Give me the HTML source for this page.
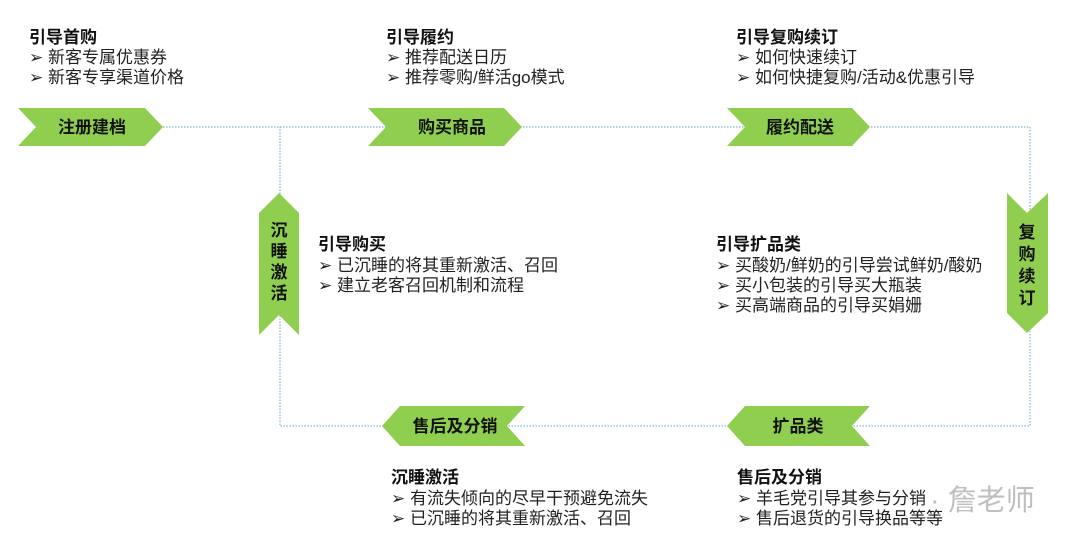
<!DOCTYPE html>
<html><head><meta charset="utf-8"><style>
html,body{margin:0;padding:0;background:#fff;width:1080px;height:543px;overflow:hidden}
text{font-family:"Liberation Sans","Noto Sans CJK SC",sans-serif;fill:#111}
.h{font-weight:bold;font-size:17px}
.t{font-size:17px;fill:#222}
.c{font-weight:bold;font-size:17px;text-anchor:middle}
</style></head><body>
<svg width="1080" height="543" viewBox="0 0 1080 543" xmlns="http://www.w3.org/2000/svg">
<g fill="none" stroke="#7fb6d6" stroke-width="1.2" stroke-dasharray="1.5,1.5">
<path d="M163 127 H1030 V426 H280 V127"/>
</g>
<g fill="#8fce4e">
<polygon points="18,108 145,108 163,127 145,146 18,146 36,127"/>
<polygon points="368,108 504,108 522,127 504,146 368,146 386,127"/>
<polygon points="727,108 852,108 870,127 852,146 727,146 745,127"/>
<polygon points="870,406 745,406 727,426 745,446 870,446 852,426"/>
<polygon points="525,406 400,406 382,426 400,446 525,446 507,426"/>
<polygon points="279,193 299,213 299,335 279,315 259,335 259,213"/>
<polygon points="1007,193 1027,213 1048,193 1048,313 1027,333 1007,313"/>
</g>
<text class="c" x="92" y="133">注册建档</text>
<text class="c" x="452" y="133">购买商品</text>
<text class="c" x="800" y="133">履约配送</text>
<text class="c" x="798" y="432">扩品类</text>
<text class="c" x="455" y="432">售后及分销</text>
<text class="c" x="279" y="236">沉</text><text class="c" x="279" y="257">睡</text><text class="c" x="279" y="278">激</text><text class="c" x="279" y="299">活</text>
<text class="c" x="1027" y="238">复</text><text class="c" x="1027" y="260">购</text><text class="c" x="1027" y="282">续</text><text class="c" x="1027" y="304">订</text>

<text class="h" x="29" y="43">引导首购</text>
<text class="t" x="29" y="63">➢ 新客专属优惠券</text>
<text class="t" x="29" y="83">➢ 新客专享渠道价格</text>

<text class="h" x="386" y="43">引导履约</text>
<text class="t" x="386" y="63">➢ 推荐配送日历</text>
<text class="t" x="386" y="83">➢ 推荐零购/鲜活go模式</text>

<text class="h" x="736" y="43">引导复购续订</text>
<text class="t" x="736" y="63">➢ 如何快速续订</text>
<text class="t" x="736" y="83">➢ 如何快捷复购/活动&amp;优惠引导</text>

<text class="h" x="318" y="250">引导购买</text>
<text class="t" x="318" y="271">➢ 已沉睡的将其重新激活、召回</text>
<text class="t" x="318" y="291">➢ 建立老客召回机制和流程</text>

<text class="h" x="716" y="250">引导扩品类</text>
<text class="t" x="716" y="271">➢ 买酸奶/鲜奶的引导尝试鲜奶/酸奶</text>
<text class="t" x="716" y="291">➢ 买小包装的引导买大瓶装</text>
<text class="t" x="716" y="311">➢ 买高端商品的引导买娟姗</text>

<text class="h" x="391" y="483">沉睡激活</text>
<text class="t" x="391" y="504">➢ 有流失倾向的尽早干预避免流失</text>
<text class="t" x="391" y="524">➢ 已沉睡的将其重新激活、召回</text>

<text class="h" x="737" y="483">售后及分销</text>
<text class="t" x="737" y="504">➢ 羊毛党引导其参与分销</text>
<text class="t" x="737" y="524">➢ 售后退货的引导换品等等</text>
<text x="930" y="510" style="font-size:29px;fill:#aaa;opacity:0.75">· 詹老师</text>
</svg>
</body></html>
